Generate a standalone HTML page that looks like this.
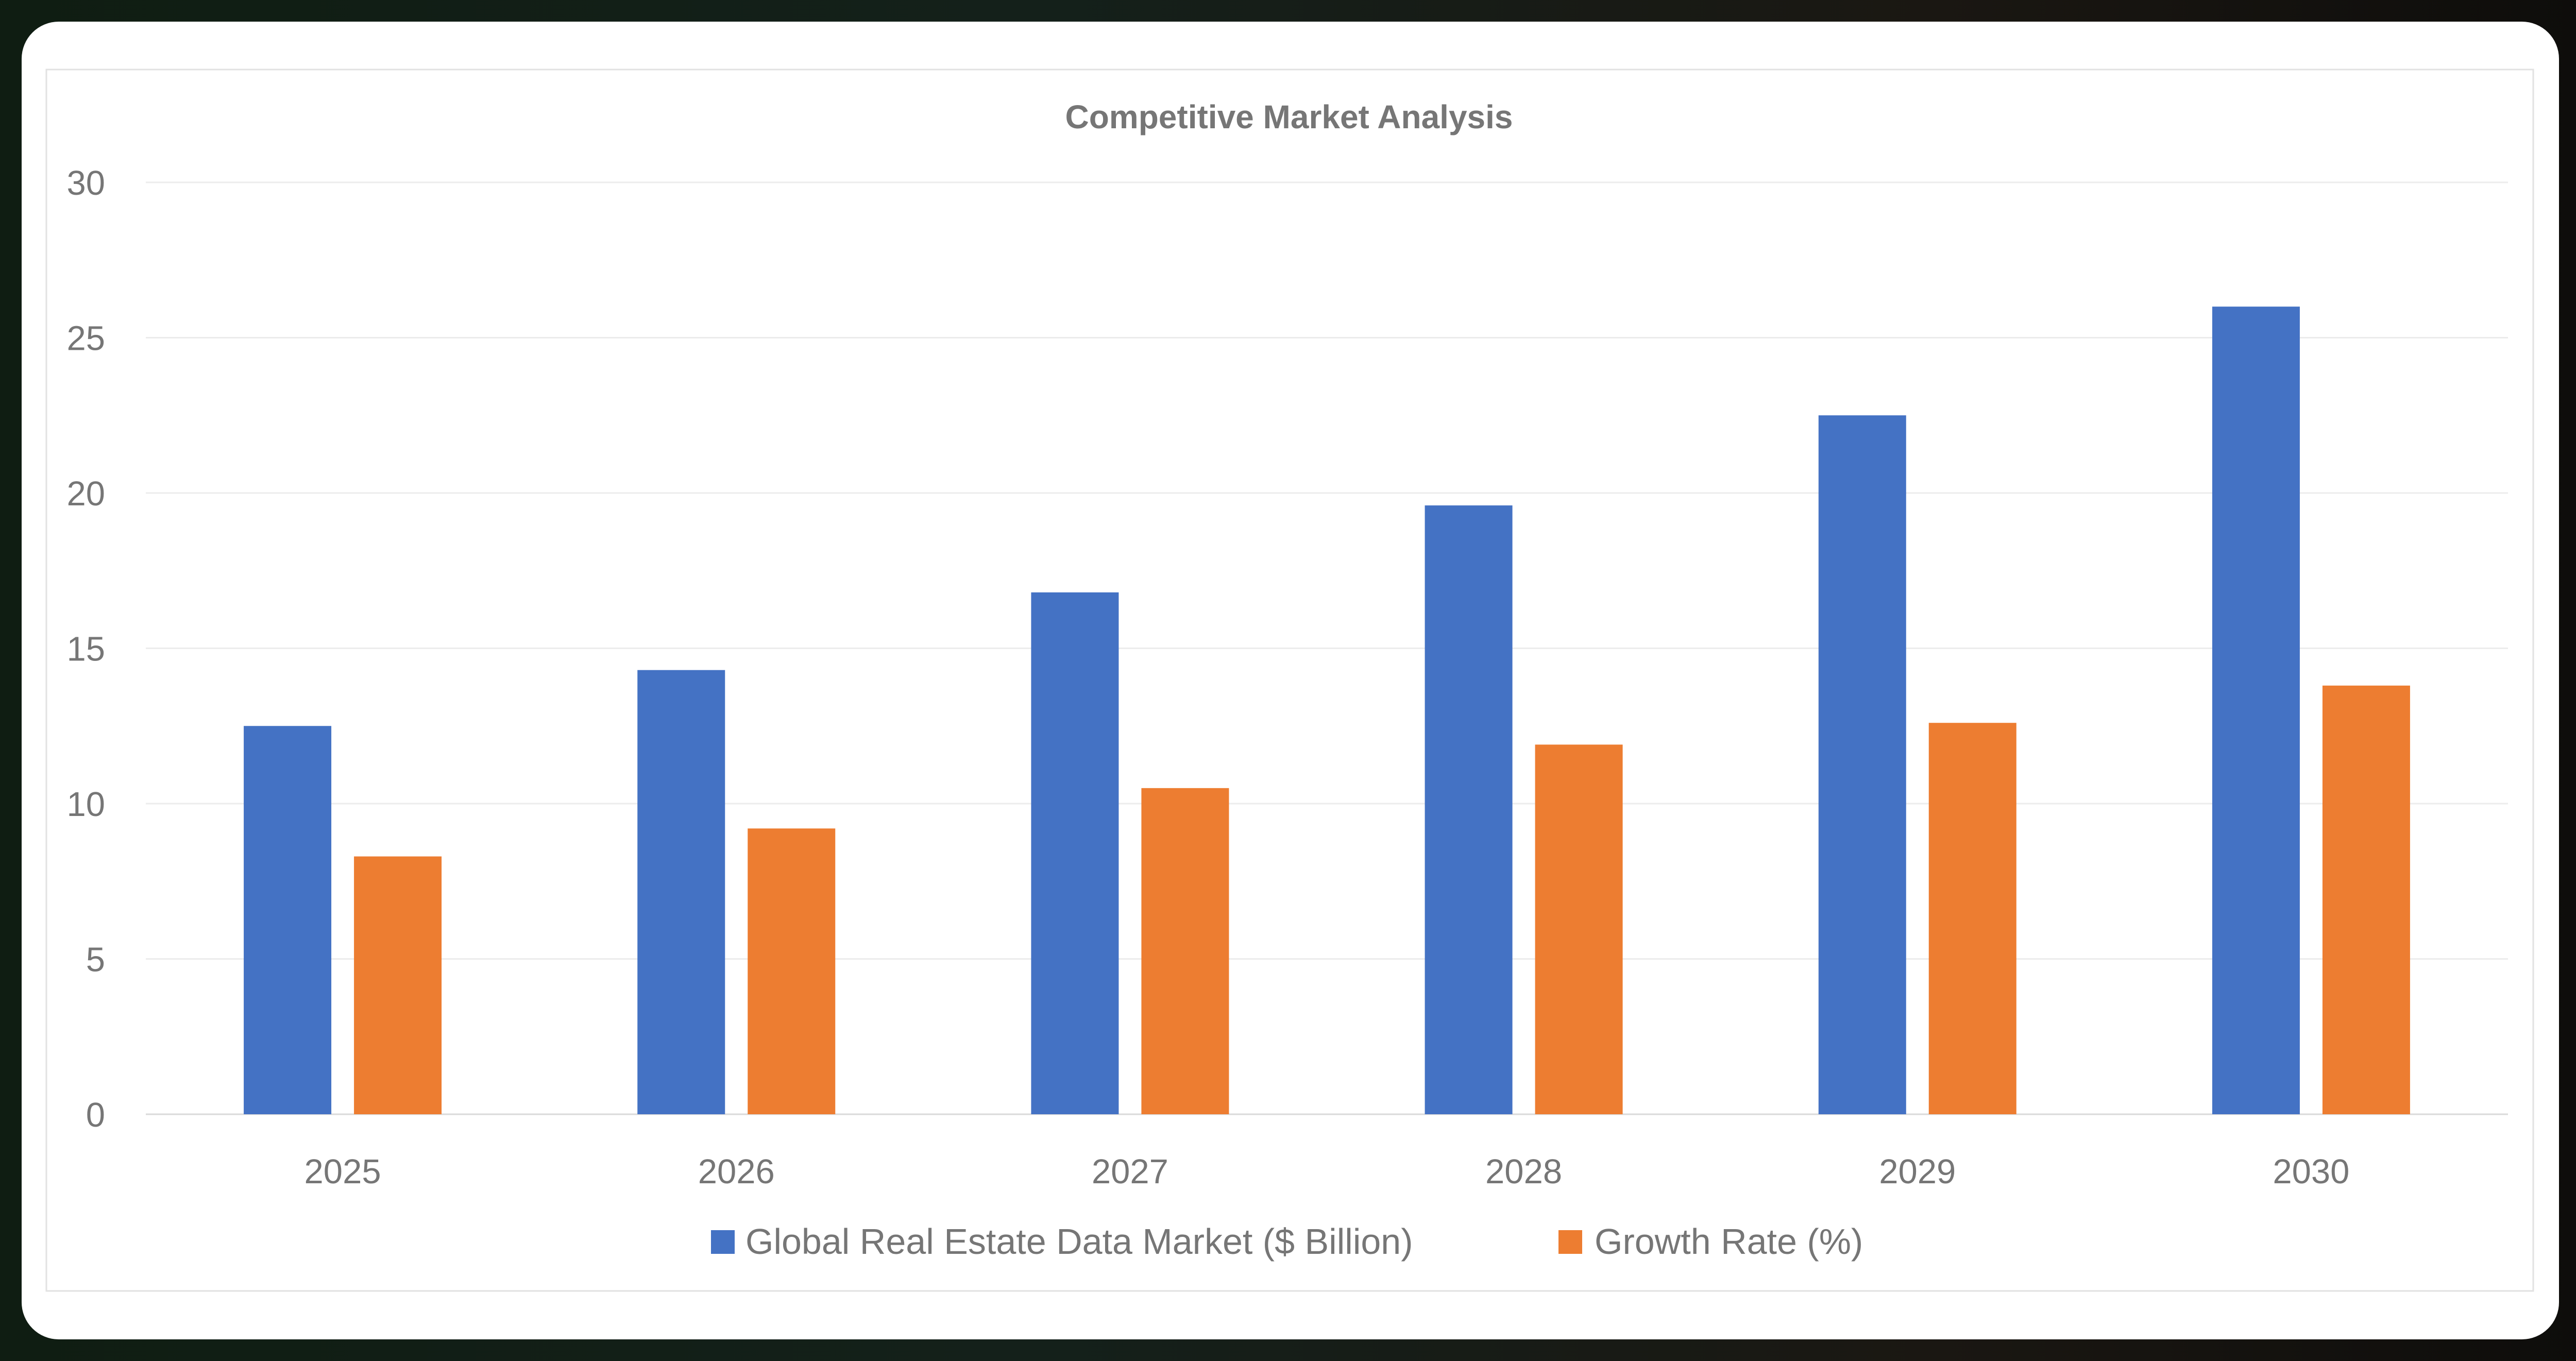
<!DOCTYPE html>
<html><head><meta charset="utf-8"><style>
html,body{margin:0;padding:0;width:5009px;height:2642px;overflow:hidden;background:linear-gradient(90deg,#0f1d12 0%,#14201a 40%,#1a1712 75%,#0e0d0b 100%);}
svg{display:block;font-family:"Liberation Sans","DejaVu Sans",sans-serif;}
</style></head><body>
<svg id="chart" width="5009" height="2642" viewBox="0 0 5009 2642">
<rect x="42" y="42" width="4925" height="2558" rx="72" fill="#ffffff"/>
<rect x="90" y="135" width="4827" height="2371" fill="none" stroke="#e2e2e2" stroke-width="3"/>
<text x="2502" y="249" text-anchor="middle" font-size="64" font-weight="bold" fill="#767676">Competitive Market Analysis</text>
<g id="grid"></g><g id="bars"></g><g id="xlabels"></g>
<g>
<rect x="1380" y="2388" width="46" height="46" fill="#4472C4"/>
<text x="1447" y="2434" font-size="70" fill="#767676">Global Real Estate Data Market ($ Billion)</text>
<rect x="3025" y="2388" width="46" height="46" fill="#ED7D31"/>
<text x="3095" y="2434" font-size="70" fill="#767676">Growth Rate (%)</text>
</g>
</svg>
<script>
const categories = ["2025","2026","2027","2028","2029","2030"];
const marketValues = [12.5,14.3,16.8,19.6,22.5,26.0];
const growthValues = [8.3,9.2,10.5,11.9,12.6,13.8];
const yTicks = [0,5,10,15,20,25,30];

const NS="http://www.w3.org/2000/svg";
const X0=283,X1=4868,Y0=2163,Y1=354,YMAX=30;
const yScale=v=>Y0-(v/YMAX)*(Y0-Y1);
const band=(X1-X0)/categories.length;
const xCenter=i=>X0+band*(i+0.5);
const BW=170,GAP=22;
function mk(tag,attrs){const e=document.createElementNS(NS,tag);for(const k in attrs)e.setAttribute(k,attrs[k]);return e;}
const grid=document.getElementById('grid');
yTicks.forEach(t=>{
  const y=yScale(t);
  const l=mk('line',{x1:X0,x2:X1,y1:y,y2:y,stroke:t===0?'#d9d9d9':'#ececec','stroke-width':3});
  
  
  grid.appendChild(l);
  const tx=mk('text',{x:204,y:y+24,'text-anchor':'end','font-size':67,fill:'#767676'});
  tx.textContent=String(t);
  
  
  grid.appendChild(tx);
});
const bars=document.getElementById('bars'),xl=document.getElementById('xlabels');
categories.forEach((c,i)=>{
  const cx=xCenter(i);
  const b1=mk('rect',{x:cx-GAP-BW,y:yScale(marketValues[i]),width:BW,height:Y0-yScale(marketValues[i]),fill:'#4472C4'});
  
  
  bars.appendChild(b1);
  const b2=mk('rect',{x:cx+GAP,y:yScale(growthValues[i]),width:BW,height:Y0-yScale(growthValues[i]),fill:'#ED7D31'});
  
  
  bars.appendChild(b2);
  const t=mk('text',{x:cx,y:2297,'text-anchor':'middle','font-size':67,fill:'#767676'});
  t.textContent=c;
  
  
  xl.appendChild(t);
});
</script>
</body></html>
